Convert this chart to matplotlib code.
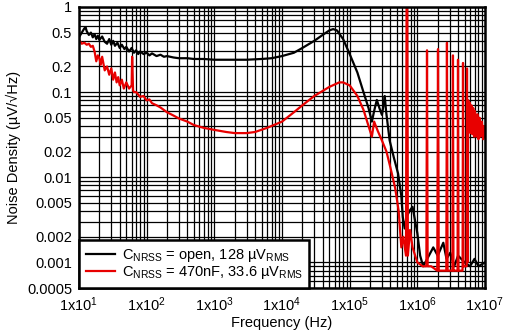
import matplotlib
matplotlib.use("Agg")
import matplotlib.pyplot as plt

plt.rcParams['font.family'] = ['Liberation Sans', 'DejaVu Sans']
plt.rcParams['mathtext.fontset'] = 'custom'
plt.rcParams['mathtext.rm'] = 'Liberation Sans'
plt.rcParams['mathtext.it'] = 'Liberation Sans:italic'

# C_NRSS = open (black)
freq_open = [10, 11, 12, 12.5, 13, 14, 15, 16, 17, 18, 19, 20, 22, 24, 26, 28, 30, 32,
             34, 37, 40, 43, 47, 50, 55, 60, 65, 70, 75, 80, 90, 100, 110, 120, 140,
             160, 180, 200, 250, 300, 400, 500, 700, 1000, 2000, 3000, 5000, 7000,
             1e4, 1.5e4, 2e4, 3e4, 4e4, 5e4, 5.7e4, 6.5e4, 8e4, 1e5, 1.3e5, 1.6e5,
             1.9e5, 2.13e5, 2.3e5, 2.52e5, 2.75e5, 3e5, 3.2e5, 3.3e5, 3.45e5, 3.9e5,
             4.5e5, 5.2e5, 5.8e5, 6.1e5, 6.5e5, 7e5, 7.8e5, 8.5e5, 9e5, 1e6, 1.1e6,
             1.22e6, 1.4e6, 1.72e6, 2e6, 2.42e6, 2.7e6, 3.07e6, 3.5e6, 4e6, 5e6, 6e6,
             7e6, 8e6, 1e7]
noise_open = [0.44, 0.50, 0.56, 0.58, 0.52, 0.47, 0.50, 0.44, 0.48, 0.42, 0.46, 0.41,
              0.45, 0.39, 0.37, 0.42, 0.36, 0.40, 0.35, 0.38, 0.33, 0.36, 0.32, 0.34,
              0.30, 0.33, 0.29, 0.31, 0.28, 0.30, 0.28, 0.29, 0.27, 0.285, 0.265,
              0.275, 0.26, 0.265, 0.255, 0.25, 0.25, 0.245, 0.245, 0.24, 0.24, 0.24,
              0.245, 0.25, 0.265, 0.29, 0.33, 0.40, 0.47, 0.53, 0.55, 0.53, 0.42,
              0.28, 0.17, 0.10, 0.065, 0.045, 0.06, 0.081, 0.065, 0.054, 0.075, 0.09,
              0.06, 0.027, 0.017, 0.011, 0.006, 0.0034, 0.0025, 0.0035, 0.0041, 0.0045,
              0.0035, 0.0022, 0.0012, 0.0009, 0.0011, 0.0015, 0.0012, 0.0017, 0.0011,
              0.0013, 0.0009, 0.0012, 0.001, 0.0009, 0.0011, 0.0009, 0.001]

# C_NRSS = 470nF (red)
freq_470n = [10, 11, 12, 13, 14, 15, 16, 17, 18, 19, 20, 21, 22, 24, 26, 28, 30, 32,
             34, 36, 38, 40, 43, 46, 50, 55, 60, 61, 63, 65, 70, 80, 90, 100, 110,
             120, 140, 160, 200, 250, 300, 400, 500, 700, 1000, 1500, 2000, 3000,
             4000, 6000, 1e4, 1.5e4, 2e4, 3e4, 5e4, 7e4, 8e4, 1e5, 1.3e5, 1.6e5,
             1.9e5, 2.13e5, 2.3e5, 2.6e5, 3e5, 3.5e5, 4e5, 4.7e5, 5.3e5, 5.8e5,
             6.2e5, 6.8e5, 6.95e5, 7.1e5, 7.25e5, 7.8e5, 8.5e5, 1e6, 1.2e6,
             1.36e6, 1.39e6, 1.42e6, 1.6e6, 1.97e6, 2.02e6, 2.07e6, 2.3e6,
             2.68e6, 2.74e6, 2.8e6, 3e6, 3.3e6, 3.36e6, 3.42e6, 3.6e6, 3.93e6,
             3.99e6, 4.05e6, 4.3e6, 4.66e6, 4.73e6, 4.8e6, 5e6, 5.35e6, 5.42e6,
             5.5e6, 5.65e6, 5.8e6, 5.95e6, 6.1e6, 6.3e6, 6.5e6, 6.7e6, 6.9e6,
             7.1e6, 7.4e6, 7.7e6, 8e6, 8.3e6, 8.6e6, 9e6, 9.4e6, 9.7e6, 1e7]
noise_470n = [0.41, 0.37, 0.38, 0.36, 0.37, 0.34, 0.35, 0.30, 0.23, 0.27, 0.25, 0.21,
              0.26, 0.18, 0.20, 0.16, 0.19, 0.14, 0.17, 0.13, 0.15, 0.12, 0.14, 0.11,
              0.13, 0.11, 0.12, 0.26, 0.105, 0.10, 0.10, 0.088, 0.09, 0.08, 0.082,
              0.074, 0.07, 0.066, 0.058, 0.053, 0.049, 0.045, 0.041, 0.038, 0.036,
              0.034, 0.033, 0.033, 0.034, 0.038, 0.045, 0.058, 0.070, 0.09, 0.115,
              0.13, 0.13, 0.12, 0.09, 0.062, 0.04, 0.030, 0.045, 0.035, 0.027, 0.02,
              0.013, 0.0075, 0.004, 0.0015, 0.002, 0.0012, 2.0, 2.0, 0.0012, 0.0024,
              0.0015, 0.001, 0.0009, 0.0009, 0.31, 0.0009, 0.0009, 0.0008, 0.32,
              0.0008, 0.0008, 0.0008, 0.38, 0.0008, 0.0008, 0.0008, 0.27, 0.0008,
              0.0008, 0.0008, 0.24, 0.0008, 0.0008, 0.0008, 0.22, 0.0009, 0.0009,
              0.0009, 0.19, 0.001, 0.08, 0.035, 0.075, 0.033, 0.07, 0.032,
              0.065, 0.03, 0.06, 0.03, 0.055, 0.028, 0.05, 0.03, 0.045, 0.028,
              0.04, 0.03]

x_ticks = [1e1, 1e2, 1e3, 1e4, 1e5, 1e6, 1e7]
x_labels = [r'1x10$^{%d}$' % k for k in range(1, 8)]
y_ticks = [1, 0.5, 0.2, 0.1, 0.05, 0.02, 0.01, 0.005, 0.002, 0.001, 0.0005]
y_labels = ['1', '0.5', '0.2', '0.1', '0.05', '0.02', '0.01', '0.005', '0.002',
            '0.001', '0.0005']

fig = plt.figure(figsize=(5.05, 3.32), dpi=100)
ax = fig.add_axes([0.1564, 0.1325, 0.8040, 0.8465])

ax.plot(freq_open, noise_open, color='black', lw=1.6,
        label=r'C$_\mathregular{NRSS}$ = open, 128 µV$_\mathregular{RMS}$')
ax.plot(freq_470n, noise_470n, color='#e80000', lw=1.6,
        label=r'C$_\mathregular{NRSS}$ = 470nF, 33.6 µV$_\mathregular{RMS}$')

ax.set_xscale('log')
ax.set_yscale('log')
ax.set_xlim(1e1, 1e7)
ax.set_ylim(0.0005, 1)

ax.set_xticks(x_ticks)
ax.set_xticklabels(x_labels)
ax.set_yticks(y_ticks)
ax.set_yticklabels(y_labels)
minor_x = [m * 10.0 ** d for d in range(1, 7) for m in range(2, 10)]
minor_y = [m * 10.0 ** d for d in range(-4, 0) for m in range(1, 10)]
ax.set_xticks(minor_x, minor=True)
ax.set_yticks([v for v in minor_y if 0.0005 <= v <= 1], minor=True)
ax.tick_params(which='both', length=0, labelsize=10.5, pad=5)
ax.grid(True, which='both', color='black', lw=0.9)

for s in ax.spines.values():
    s.set_linewidth(1.8)

ax.set_xlabel('Frequency (Hz)', fontsize=10.5, labelpad=2)
ax.set_ylabel('Noise Density (µV/√Hz)', fontsize=10.5, labelpad=4)

leg = ax.legend(loc='lower left', borderaxespad=0, fancybox=False, fontsize=10.5,
                handlelength=2.0, handletextpad=0.5, borderpad=0.45, labelspacing=0.05,
                framealpha=1)
leg.get_frame().set_edgecolor('black')
leg.get_frame().set_linewidth(1.8)

fig.savefig('out.png', dpi=100)
